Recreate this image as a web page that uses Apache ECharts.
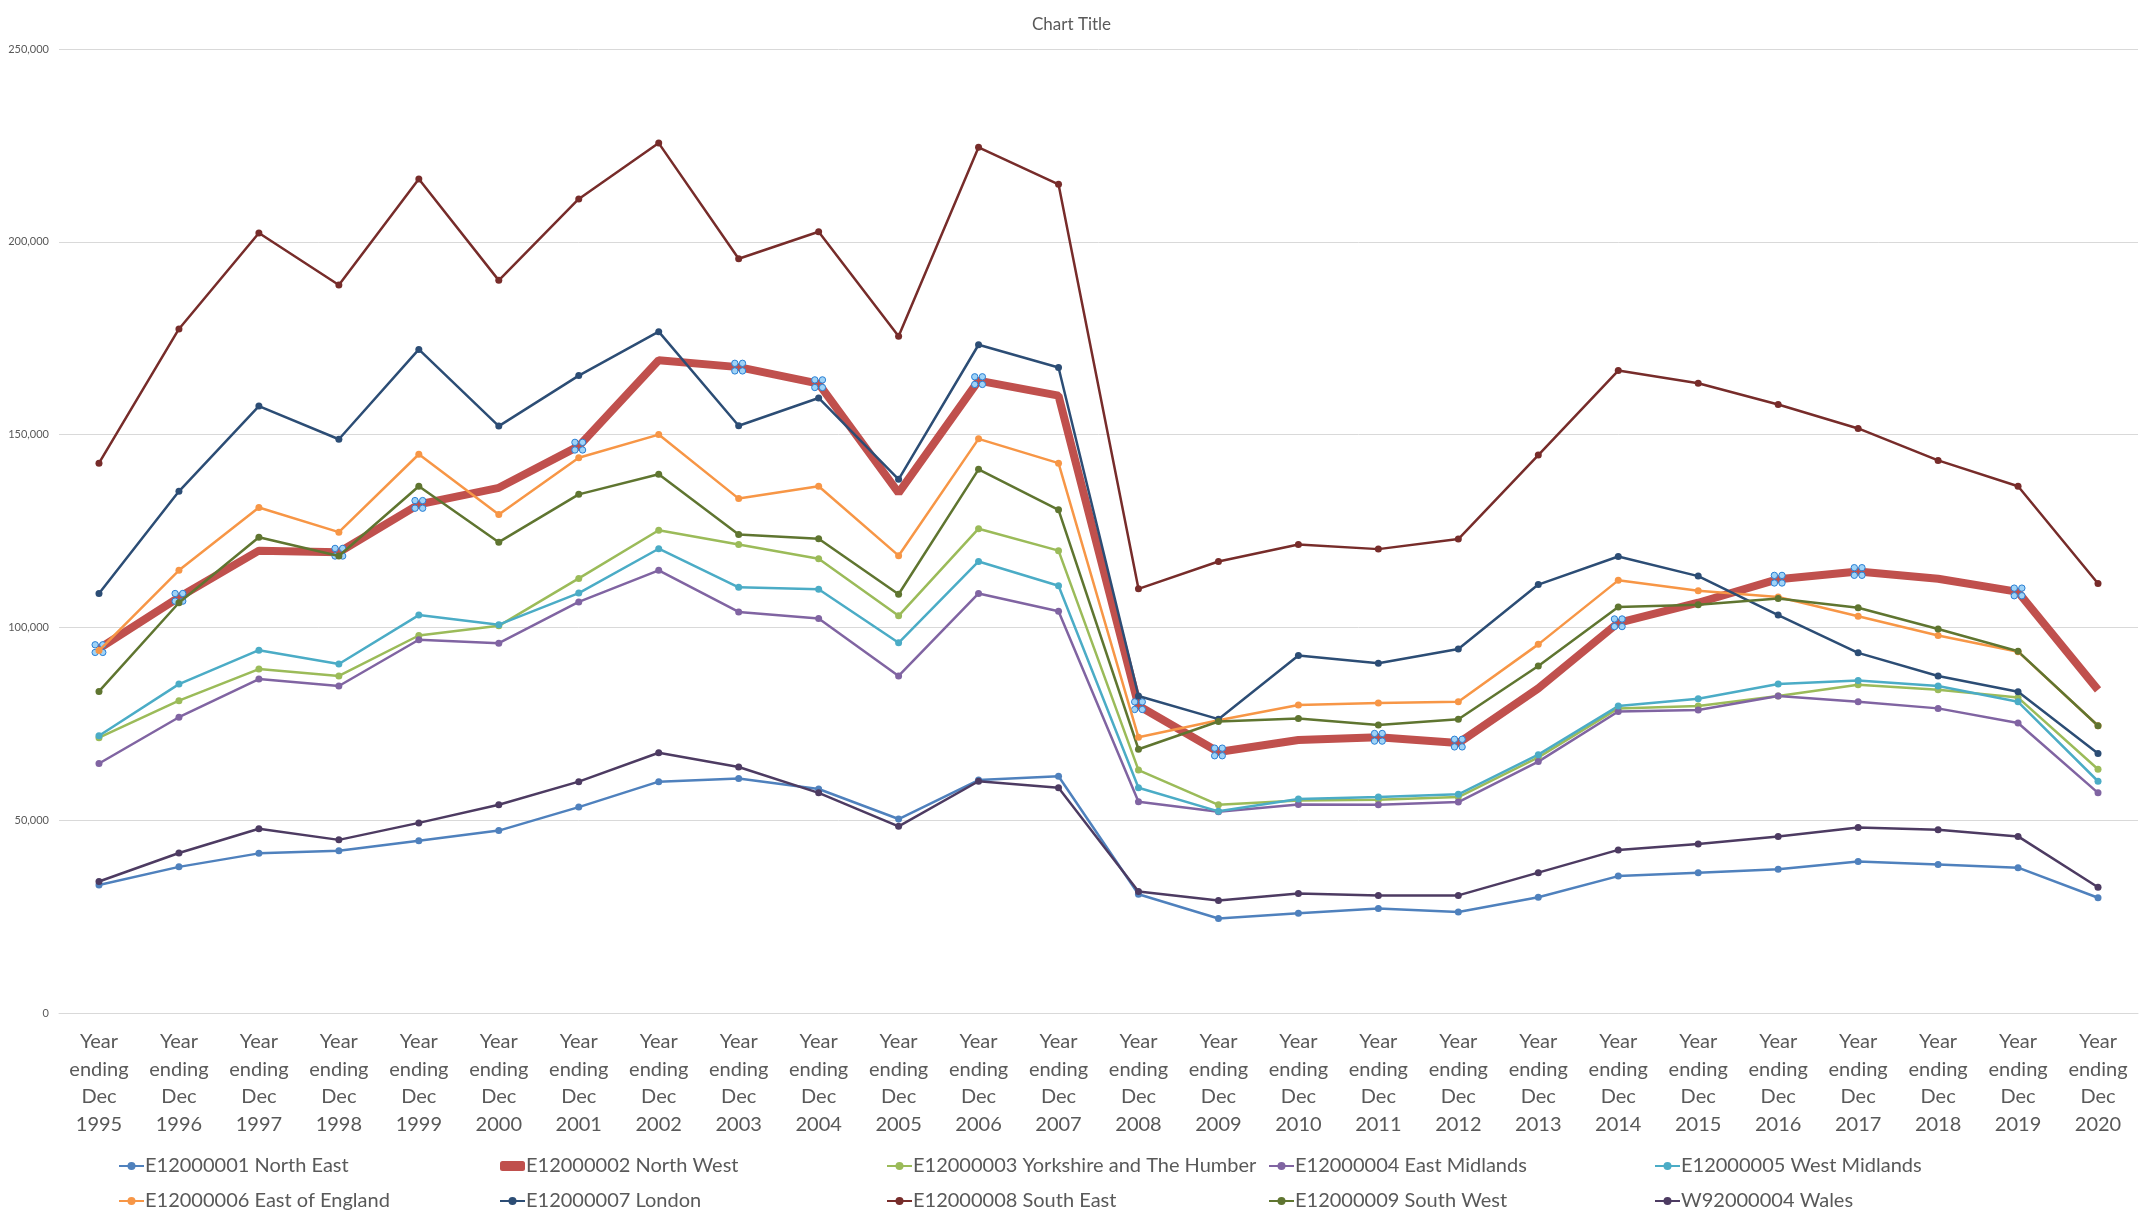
<!DOCTYPE html>
<html>
<head>
<meta charset="utf-8">
<script src="https://cdn.jsdelivr.net/npm/echarts@6/dist/echarts.min.js"></script>
<style>
html,body{margin:0;padding:0;background:#fff;}
#chart{width:2143px;height:1220px;}
</style>
</head>
<body>
<div id="chart"></div>
<script>
const years = ['1995','1996','1997','1998','1999','2000','2001','2002','2003','2004','2005','2006','2007','2008','2009','2010','2011','2012','2013','2014','2015','2016','2017','2018','2019','2020'];
const categories = years.map(y => 'Year\nending\nDec\n' + y);
const yTicks = [0, 50000, 100000, 150000, 200000, 250000];

const northEast = [33200,37900,41400,42100,44700,47300,53400,60000,60800,58100,50300,60400,61400,30800,24500,25900,27100,26200,30000,35500,36400,37300,39300,38500,37700,29900];
const northWest = [94500,107800,119900,119500,131900,136200,147000,169300,167500,163200,134900,164000,160100,79700,67700,70800,71500,70000,84200,101200,106400,112500,114500,112600,109200,83800];
const yorkshire = [71400,81000,89200,87400,97900,100400,112700,125200,121500,117800,103000,125600,119900,63000,54000,55100,55300,56000,66300,79000,79600,82200,85100,83800,81800,63200];
const eastMidlands = [64700,76700,86600,84800,96800,95900,106600,114800,104000,102300,87400,108800,104200,54800,52200,54100,54000,54700,65200,78200,78600,82200,80700,79000,75200,57100];
const westMidlands = [71900,85300,94100,90500,103200,100700,108900,120400,110400,109900,96000,117100,110800,58400,52300,55500,56000,56700,67000,79600,81500,85300,86200,84800,80700,60100];
const eastOfEngland = [94000,114800,131100,124700,144900,129300,144000,150000,133400,136600,118600,148900,142600,71500,75900,79900,80400,80700,95600,112200,109500,107900,102900,97900,93700,74500];
const london = [108800,135300,157400,148800,172100,152200,165300,176700,152300,159500,138400,173300,167400,82200,76200,92700,90700,94400,111100,118400,113300,103200,93400,87400,83300,67300];
const southEast = [142600,177400,202300,188800,216300,190000,211100,225600,195600,202600,175500,224500,214900,110000,117100,121500,120300,122900,144700,166600,163300,157800,151600,143300,136600,111400];
const southWest = [83400,106400,123400,118500,136600,122100,134500,139700,124100,123000,108600,141000,130500,68400,75600,76400,74700,76200,90000,105300,105900,107500,105100,99600,93800,74500];
const wales = [34100,41500,47800,44900,49300,54000,60000,67500,63800,57100,48400,60100,58400,31500,29200,31000,30500,30500,36400,42300,43800,45800,48100,47500,45800,32600];

const seriesNames = ['E12000001 North East','E12000002 North West','E12000003 Yorkshire and The Humber','E12000004 East Midlands','E12000005 West Midlands','E12000006 East of England','E12000007 London','E12000008 South East','E12000009 South West','W92000004 Wales'];
const seriesValues = [northEast, northWest, yorkshire, eastMidlands, westMidlands, eastOfEngland, london, southEast, southWest, wales];
const colors = ['#4F81BD','#C0504D','#9BBB59','#8064A2','#4BACC6','#F79646','#2C4D75','#772C2A','#5F7530','#4D3B62'];

// Excel selection handles shown on the selected (North West) series
const handleIdx = [0,1,3,4,6,8,9,11,13,14,16,17,19,21,22,24];
const handlePath = 'path://M0,5a5,5 0 1,0 10,0a5,5 0 1,0 -10,0M12,5a5,5 0 1,0 10,0a5,5 0 1,0 -10,0M0,17a5,5 0 1,0 10,0a5,5 0 1,0 -10,0M12,17a5,5 0 1,0 10,0a5,5 0 1,0 -10,0';

const FONT = 'Lato';
const TXT = '#595959';

const series = seriesValues.map((vals, i) => {
  const isNW = i === 1;
  return {
    name: seriesNames[i],
    type: 'line',
    color: colors[i],
    symbol: isNW ? 'none' : 'circle',
    symbolSize: 7,
    showSymbol: true,
    lineStyle: { width: isNW ? 8 : 2.5, color: colors[i] },
    itemStyle: { color: colors[i] },
    emphasis: { disabled: true },
    z: isNW ? 2 : 3,
    data: isNW ? vals.map((v, k) => handleIdx.includes(k) ? {
      value: v, symbol: handlePath, symbolSize: 14,
      itemStyle: { color: '#9fd3f7', borderColor: '#2a7fd4', borderWidth: 1 }
    } : v) : vals
  };
});

const legendCols = [118, 499, 886, 1268, 1654];
const legendPairs = [[0,5],[1,6],[2,7],[3,8],[4,9]];
const legends = legendPairs.map((p, c) => ({
  type: 'plain',
  orient: 'vertical',
  left: legendCols[c],
  top: 1154,
  height: 64,
  padding: 0,
  itemGap: 11,
  itemWidth: 25,
  itemHeight: 10,
  selectedMode: false,
  data: p.map(k => k === 1 ? { name: seriesNames[k], icon: 'roundRect', itemStyle: { color: colors[k] } } : seriesNames[k]),
  textStyle: { fontFamily: FONT, fontSize: 20, color: TXT, lineHeight: 24, padding: [0,0,0,-4] }
}));

const chart = echarts.init(document.getElementById('chart'), null, { renderer: 'canvas' });
chart.setOption({
  animation: false,
  backgroundColor: '#fff',
  title: {
    text: 'Chart Title',
    left: 'center',
    top: 11,
    textStyle: { fontFamily: FONT, fontSize: 17, fontWeight: 'normal', color: TXT }
  },
  legend: legends,
  grid: { left: 59, right: 5, top: 49, bottom: 207, containLabel: false },
  xAxis: {
    type: 'category',
    data: categories,
    boundaryGap: true,
    axisLine: { show: true, lineStyle: { color: '#d9d9d9', width: 1 } },
    axisTick: { show: false },
    axisLabel: {
      interval: 0,
      margin: 15,
      fontFamily: FONT,
      fontSize: 20,
      lineHeight: 27.5,
      color: TXT
    }
  },
  yAxis: {
    type: 'value',
    min: yTicks[0],
    max: yTicks[yTicks.length - 1],
    interval: yTicks[1] - yTicks[0],
    axisLine: { show: false },
    axisTick: { show: false },
    splitLine: { lineStyle: { color: '#d9d9d9', width: 1 } },
    axisLabel: {
      margin: 10,
      fontFamily: FONT,
      fontSize: 11,
      color: TXT,
      formatter: v => v.toLocaleString('en-US')
    }
  },
  series: series
});
</script>
</body>
</html>
